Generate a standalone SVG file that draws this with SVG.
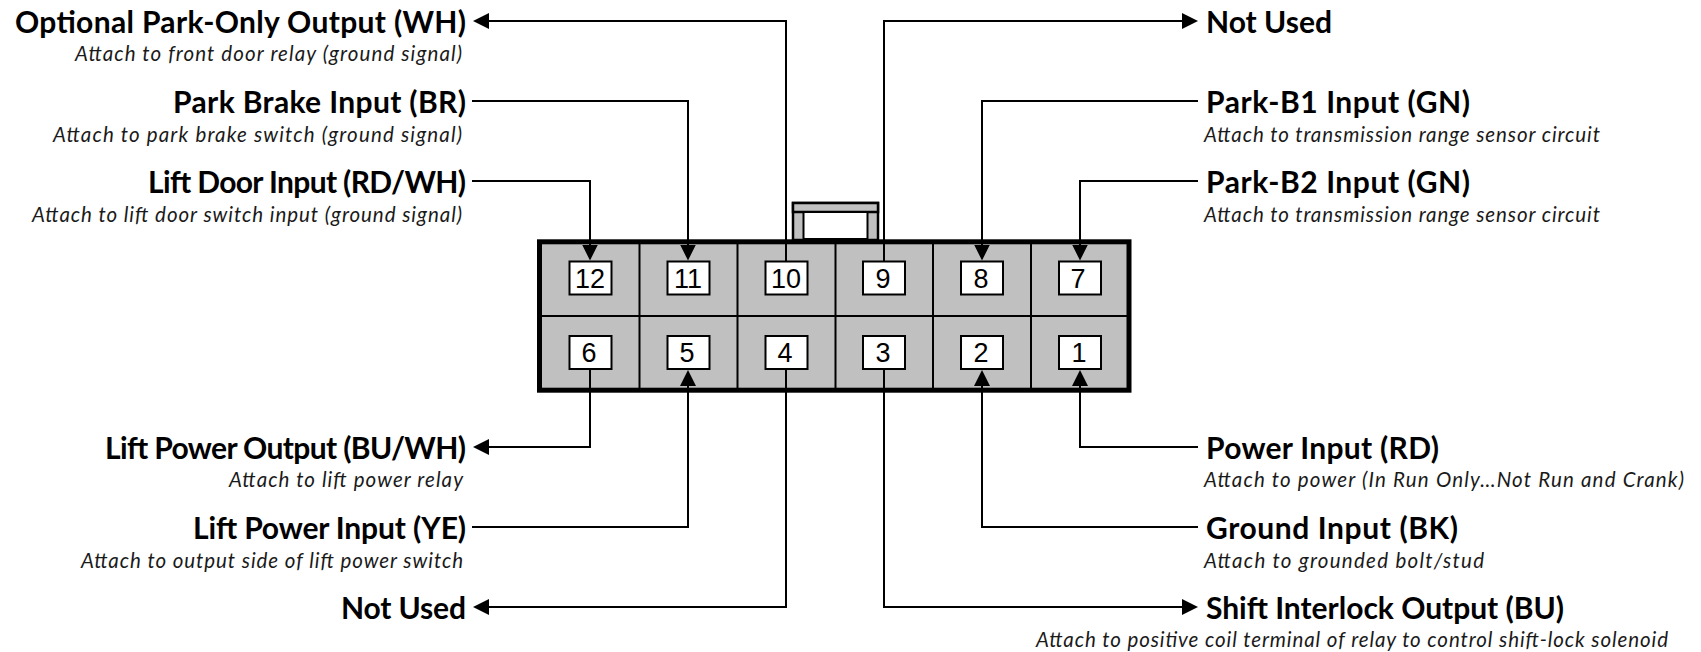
<svg xmlns="http://www.w3.org/2000/svg" width="1701" height="652" viewBox="0 0 1701 652">
<style>
.t{font:700 30px Lato,"Liberation Sans",sans-serif;fill:#000}
.s{font:italic 400 20.500px Lato,"Liberation Sans",sans-serif;fill:#1a1a1a}
.w{fill:none;stroke:#000;stroke-width:2}
.p{fill:#fff;stroke:#000;stroke-width:2}
.n{font:27px "Liberation Sans",Arial,sans-serif;text-anchor:middle;fill:#000}
.d{stroke:#000;stroke-width:2;fill:none}
</style>
<defs>
<marker id="a" markerUnits="userSpaceOnUse" markerWidth="18" markerHeight="18" refX="13" refY="9" orient="auto"><path d="M0 1L16 9L0 17Z" fill="#000"/></marker>
</defs>
<rect width="1701" height="652" fill="#fff"/>
<g id="connector-body">
<rect x="793" y="203" width="85" height="37" fill="#c0c0c0" stroke="#000" stroke-width="2.500"/>
<rect x="793" y="203" width="85" height="9" fill="#c0c0c0" stroke="#000" stroke-width="2.500"/>
<rect x="803.500" y="212" width="64" height="27" fill="#fff" stroke="#000" stroke-width="2"/>
<rect x="539.500" y="241.800" width="589.500" height="148.400" fill="#c0c0c0" stroke="#000" stroke-width="5"/>
<path class="d" d="M639.500 242V390M737.500 242V390M835.500 242V390M933 242V390M1031 242V390M540 316H1129"/>
</g>
<g id="connectors">
<path class="w" marker-end="url(#a)" d="M786 261V21H476"/>
<path class="w" d="M884 261V21H1195" marker-end="url(#a)"/>
<path class="w" d="M472 101H688V257.500" marker-end="url(#a)"/>
<path class="w" d="M472 181H590V257.500" marker-end="url(#a)"/>
<path class="w" d="M1198 101H982V257.500" marker-end="url(#a)"/>
<path class="w" d="M1198 181H1080V257.500" marker-end="url(#a)"/>
<path class="w" d="M590 369V447H476" marker-end="url(#a)"/>
<path class="w" d="M472 527H688V373" marker-end="url(#a)"/>
<path class="w" d="M786 369V607H476" marker-end="url(#a)"/>
<path class="w" d="M884 369V607H1195" marker-end="url(#a)"/>
<path class="w" d="M1198 527H982V373" marker-end="url(#a)"/>
<path class="w" d="M1198 447H1080V373" marker-end="url(#a)"/>
</g>
<g id="pin-12"><rect class="p" x="569.500" y="261.500" width="42" height="33"/><text class="n" x="590" y="287.500">12</text></g>
<g id="pin-11"><rect class="p" x="667.500" y="261.500" width="42" height="33"/><text class="n" x="688" y="287.500">11</text></g>
<g id="pin-10"><rect class="p" x="765.500" y="261.500" width="42" height="33"/><text class="n" x="786" y="287.500">10</text></g>
<g id="pin-9"><rect class="p" x="863" y="261.500" width="42" height="33"/><text class="n" x="883" y="287.500">9</text></g>
<g id="pin-8"><rect class="p" x="961" y="261.500" width="42" height="33"/><text class="n" x="981" y="287.500">8</text></g>
<g id="pin-7"><rect class="p" x="1059" y="261.500" width="42" height="33"/><text class="n" x="1078" y="287.500">7</text></g>
<g id="pin-6"><rect class="p" x="569.500" y="336" width="42" height="33"/><text class="n" x="589" y="361.500">6</text></g>
<g id="pin-5"><rect class="p" x="667.500" y="336" width="42" height="33"/><text class="n" x="687" y="361.500">5</text></g>
<g id="pin-4"><rect class="p" x="765.500" y="336" width="42" height="33"/><text class="n" x="785" y="361.500">4</text></g>
<g id="pin-3"><rect class="p" x="863" y="336" width="42" height="33"/><text class="n" x="883" y="361.500">3</text></g>
<g id="pin-2"><rect class="p" x="961" y="336" width="42" height="33"/><text class="n" x="981" y="361.500">2</text></g>
<g id="pin-1"><rect class="p" x="1059" y="336" width="42" height="33"/><text class="n" x="1079" y="361.500">1</text></g>
<g id="label-wh"><text class="t" x="15" y="33" textLength="451">Optional Park-Only Output (WH)</text><text class="s" x="75" y="61" textLength="387">Attach to front door relay (ground signal)</text></g>
<g id="label-br"><text class="t" x="173" y="113" textLength="293">Park Brake Input (BR)</text><text class="s" x="53" y="141.500" textLength="409">Attach to park brake switch (ground signal)</text></g>
<g id="label-rdwh"><text class="t" x="148" y="193" textLength="318">Lift Door Input (RD/WH)</text><text class="s" x="32" y="221.500" textLength="430">Attach to lift door switch input (ground signal)</text></g>
<g id="label-buwh"><text class="t" x="105" y="458.500" textLength="361">Lift Power Output (BU/WH)</text><text class="s" x="229" y="487" textLength="234">Attach to lift power relay</text></g>
<g id="label-ye"><text class="t" x="193" y="539" textLength="273">Lift Power Input (YE)</text><text class="s" x="81" y="567.500" textLength="382">Attach to output side of lift power switch</text></g>
<g id="label-nu-left"><text class="t" x="341" y="619" textLength="125">Not Used</text></g>
<g id="label-nu-right"><text class="t" x="1206" y="33" textLength="126">Not Used</text></g>
<g id="label-b1"><text class="t" x="1206" y="113" textLength="264">Park-B1 Input (GN)</text><text class="s" x="1204" y="141.500" textLength="396">Attach to transmission range sensor circuit</text></g>
<g id="label-b2"><text class="t" x="1206" y="193" textLength="264">Park-B2 Input (GN)</text><text class="s" x="1204" y="221.500" textLength="396">Attach to transmission range sensor circuit</text></g>
<g id="label-rd"><text class="t" x="1206" y="458.500" textLength="233">Power Input (RD)</text><text class="s" x="1204" y="487" textLength="480">Attach to power (In Run Only…Not Run and Crank)</text></g>
<g id="label-bk"><text class="t" x="1206" y="539" textLength="252">Ground Input (BK)</text><text class="s" x="1204" y="567.500" textLength="280">Attach to grounded bolt/stud</text></g>
<g id="label-bu"><text class="t" x="1206" y="619" textLength="358">Shift Interlock Output (BU)</text><text class="s" x="1036" y="647" textLength="632">Attach to positive coil terminal of relay to control shift-lock solenoid</text></g>
</svg>
